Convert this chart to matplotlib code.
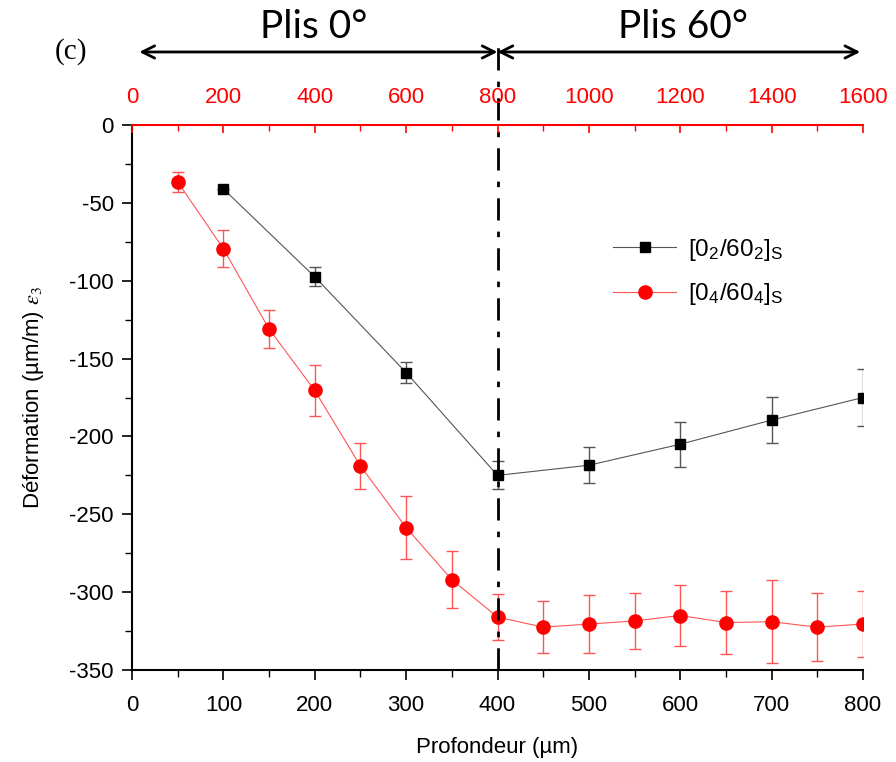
import numpy as np
import matplotlib
matplotlib.use("Agg")
import matplotlib.pyplot as plt
from matplotlib.ticker import MultipleLocator

plt.rcParams['font.family'] = ['Liberation Sans', 'DejaVu Sans']
plt.rcParams['mathtext.fontset'] = 'stix'
plt.rcParams['axes.unicode_minus'] = False

# [0_2/60_2]_S  (black squares)
depth_a = [100, 200, 300, 400, 500, 600, 700, 800]
strain_a = [-41, -97.5, -159, -225, -218.5, -205, -189.5, -175]
err_a = [0, 6, 7, 9, 11.5, 14.5, 15, 18.5]

# [0_4/60_4]_S  (red circles)
depth_b = [50, 100, 150, 200, 250, 300, 350, 400, 450, 500, 550, 600, 650, 700, 750, 800]
strain_b = [-36.5, -79.5, -131, -170.5, -219, -258.5, -292, -316,
            -322.5, -320.5, -318.5, -315, -319.5, -319, -322.5, -320.5]
err_b = [6.5, 12, 12.5, 16.5, 15, 20.5, 18.5, 15,
         16.5, 18.5, 18, 19.5, 20.5, 26.5, 22, 21]

zones = ["Plis 0°", "Plis 60°"]
zone_limits = [8, 400, 797]
zone_text_x = [199, 603]

fig = plt.figure(figsize=(8.96, 7.62), dpi=100)
ax = fig.add_axes([132/896, 92/762, 731/896, 545/762])

# error bars first, lighter colours like the original
ax.errorbar(depth_a, strain_a, yerr=err_a, fmt='none', ecolor='#555555',
            elinewidth=1, capsize=4, capthick=1, zorder=2)
ax.errorbar(depth_b, strain_b, yerr=err_b, fmt='none', ecolor='#ff5555',
            elinewidth=1, capsize=4, capthick=1, zorder=2)

ax.plot(depth_a, strain_a, color='#555555', lw=0.8, marker='s', ms=7.5,
        mfc='black', mec='black', label='[0$_\\mathregular{2}$/60$_\\mathregular{2}$]$_\\mathregular{S}$', zorder=3)
ax.plot(depth_b, strain_b, color='#ff5555', lw=0.8, marker='o', ms=9.5,
        mfc='red', mec='red', label='[0$_\\mathregular{4}$/60$_\\mathregular{4}$]$_\\mathregular{S}$', zorder=3)

ax.set_xlim(0, 800)
ax.set_ylim(-350, 0)
ax.xaxis.set_major_locator(MultipleLocator(100))
ax.xaxis.set_minor_locator(MultipleLocator(50))
ax.yaxis.set_major_locator(MultipleLocator(50))
ax.yaxis.set_minor_locator(MultipleLocator(25))
ax.tick_params(which='major', direction='out', length=7, width=1.2, labelsize=16)
ax.tick_params(which='minor', direction='out', length=5, width=1)
ax.tick_params(axis='y', which='major', pad=6)
ax.tick_params(axis='x', which='major', pad=11)
ax.spines['top'].set_visible(False)
ax.spines['right'].set_visible(False)
ax.spines['left'].set_linewidth(1.5)
ax.spines['bottom'].set_linewidth(1.5)

ax.set_xlabel('Profondeur (µm)', fontsize=16, labelpad=15)
ax.set_ylabel('Déformation (µm/m) $\\varepsilon_3$', fontsize=16, labelpad=17)

# top red axis
ax2 = ax.twiny()
ax2.set_xlim(0, 1600)
ax2.xaxis.set_major_locator(MultipleLocator(200))
ax2.xaxis.set_minor_locator(MultipleLocator(100))
for s in ['left', 'right', 'bottom']:
    ax2.spines[s].set_visible(False)
ax2.spines['top'].set_color('red')
ax2.spines['top'].set_linewidth(1.5)
ax2.tick_params(axis='x', which='major', direction='in', length=6, width=1.2,
                colors='red', labelsize=16, pad=12)
ax2.tick_params(axis='x', which='minor', direction='in', length=4, width=1, colors='red')

# separation line and zone arrows
trans = ax.get_xaxis_transform()
ax.plot([400, 400], [0, 1.16], transform=trans, color='black', lw=2,
        ls=(0, (8, 4, 2, 4)), clip_on=False, zorder=5)
for i, name in enumerate(zones):
    x0, x1 = zone_limits[i], zone_limits[i + 1]
    ax.annotate('', xy=(x0, 1.134), xytext=(x1, 1.134), xycoords=trans,
                textcoords=trans, arrowprops=dict(arrowstyle='<->', lw=2,
                                                  color='black', mutation_scale=22,
                                                  shrinkA=0, shrinkB=0))
    ax.text(zone_text_x[i], 1.18, name, transform=trans, ha='center',
            va='center', fontsize=28, family=['Lato', 'DejaVu Sans'])
ax.text(-84, 1.134, '(c)', transform=trans, ha='left', va='center', fontsize=21,
        family=['Liberation Serif', 'DejaVu Serif'])

ax.legend(loc='upper left', bbox_to_anchor=(0.628, 0.835), frameon=False,
          fontsize=17.5, handlelength=2.6, handletextpad=0.5, labelspacing=0.75)

plt.savefig('out.png', dpi=100)
